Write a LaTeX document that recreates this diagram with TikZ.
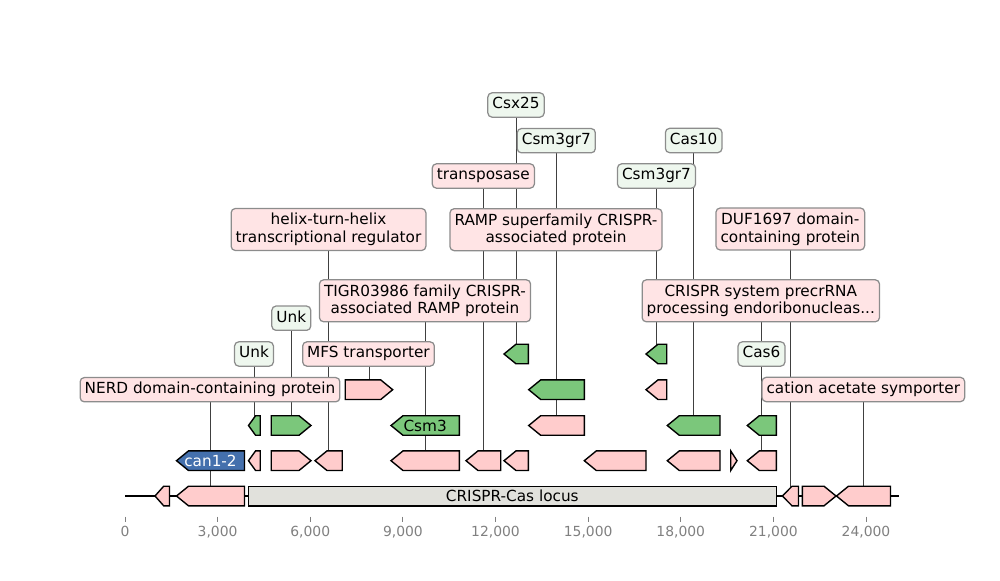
\documentclass[tikz,border=0pt]{standalone}
\usepackage{fontspec}
\setmainfont{DejaVu Sans}
\pgfdeclarelayer{bg}
\pgfsetlayers{bg,main}
\definecolor{gpink}{HTML}{FFCCCC}
\definecolor{ggreen}{HTML}{7BC77B}
\definecolor{gblue}{HTML}{4470AD}
\definecolor{glocus}{HTML}{E1E1DC}
\definecolor{bpink}{HTML}{FFE4E5}
\definecolor{bgreen}{HTML}{EEF7EE}
\definecolor{bedge}{HTML}{8C8C8C}
\definecolor{conncol}{HTML}{404040}
\definecolor{axgray}{HTML}{808080}
\tikzset{
  feat/.style={draw=black, line width=1pt, line join=miter},
  conn/.style={draw=conncol, line width=0.6pt},
  lblbase/.style={draw=bedge, line width=0.9pt, rounded corners=3pt, inner xsep=3.3pt,
    font=\fontsize{11}{12.7}\selectfont},
  lblone/.style={lblbase, inner ysep=3.3pt, text height=8.3pt, text depth=2.6pt},
  lbltwo/.style={lblbase, inner ysep=0pt, minimum height=30.2pt, align=center},
  pinkone/.style={lblone, fill=bpink},
  pinktwo/.style={lbltwo, fill=bpink},
  greenone/.style={lblone, fill=bgreen},
  intext/.style={inner sep=0pt, font=\fontsize{11}{12.7}\selectfont},
  tickmark/.style={draw=axgray, line width=0.7pt},
  ticklbl/.style={inner sep=0pt, anchor=north, text=axgray, font=\fontsize{10}{12}\selectfont},
}
% #1 name, #2 x1, #3 x2, #4 y centre, #5 direction (-1 left, 1 right), #6 fill colour
\newcommand\gfeat[6]{%
  \pgfmathsetmacro\gL{#3-#2}%
  \pgfmathsetmacro\gH{(\gL<8) ? \gL : min(12,0.6*\gL)}%
  \ifnum#5<0
    \draw[feat,fill=#6] (#2,#4) -- (#2+\gH,#4-9.8) -- (#3,#4-9.8) -- (#3,#4+9.8) -- (#2+\gH,#4+9.8) -- cycle;
  \else
    \draw[feat,fill=#6] (#3,#4) -- (#3-\gH,#4-9.8) -- (#2,#4-9.8) -- (#2,#4+9.8) -- (#3-\gH,#4+9.8) -- cycle;
  \fi
  \coordinate (#1) at ({(#2+#3)/2},#4);%
}
\begin{document}
\begin{tikzpicture}[x=0.72pt,y=-0.72pt]
\useasboundingbox (0,0) rectangle (1000,580);

% axis line
\coordinate (axL) at (125,496);
\coordinate (axR) at (899,496);
\begin{pgfonlayer}{bg}
\draw[line width=1.5pt] (axL) -- (axR);
\end{pgfonlayer}

% ticks
\foreach \i in {0,...,8} {
  \pgfmathsetmacro\xx{125+92.625*\i}
  \pgfmathtruncatemacro\vv{3*\i}
  \draw[tickmark] (\xx,516.5) -- (\xx,521.5);
  \node[ticklbl] (tick\i) at (\xx,526.3) {\ifnum\i=0 0\else\vv,000\fi};
}

% level 0
\gfeat{f0a}{155}{169.5}{496}{-1}{gpink}
\gfeat{f0b}{176.5}{244.5}{496}{-1}{gpink}
\draw[feat,fill=glocus] (248.3,486.2) rectangle (776.3,505.8);
\coordinate (locus) at (512.3,496);
\node[intext] (locustext) at (locus) {CRISPR-Cas locus};
\gfeat{f0c}{782.3}{798.5}{496}{-1}{gpink}
\gfeat{f0d}{802.3}{836}{496}{1}{gpink}
\gfeat{f0e}{836.5}{890.5}{496}{-1}{gpink}

% level 1
\gfeat{can}{176.5}{244.5}{460.7}{-1}{gblue}
\node[intext,text=white] (cantext) at (can) {can1-2};
\gfeat{f1a}{248.5}{260.3}{460.7}{-1}{gpink}
\gfeat{f1b}{271.3}{311}{460.7}{1}{gpink}
\gfeat{f1c}{315}{342.3}{460.7}{-1}{gpink}
\gfeat{f1d}{391}{459.3}{460.7}{-1}{gpink}
\gfeat{f1e}{466}{500.7}{460.7}{-1}{gpink}
\gfeat{f1f}{504}{528.3}{460.7}{-1}{gpink}
\gfeat{f1g}{584.3}{646}{460.7}{-1}{gpink}
\gfeat{f1h}{667.3}{720}{460.7}{-1}{gpink}
\gfeat{f1i}{730.7}{737}{460.7}{1}{gpink}
\gfeat{f1j}{747.3}{776.3}{460.7}{-1}{gpink}

% level 2
\gfeat{f2a}{248.5}{260.3}{425.5}{-1}{ggreen}
\gfeat{f2b}{271.3}{311}{425.5}{1}{ggreen}
\gfeat{csm}{391}{459.3}{425.5}{-1}{ggreen}
\node[intext] (csmtext) at (csm) {Csm3};
\gfeat{f2c}{528.7}{584.3}{425.5}{-1}{gpink}
\gfeat{f2d}{667.3}{720}{425.5}{-1}{ggreen}
\gfeat{f2e}{747.3}{776.3}{425.5}{-1}{ggreen}

% level 3
\gfeat{f3a}{345.3}{392.7}{389.7}{1}{gpink}
\gfeat{f3b}{528.7}{584.3}{389.7}{-1}{ggreen}
\gfeat{f3c}{646}{666.7}{389.7}{-1}{gpink}

% level 4
\gfeat{f4a}{504}{528.3}{354}{-1}{ggreen}
\gfeat{f4b}{646}{666.7}{354}{-1}{ggreen}

% labels
\node[pinkone] (nerd) at (210,389.7) {NERD domain-containing protein};
\node[greenone] (unka) at (254,354) {Unk};
\node[greenone] (unkb) at (291.3,318.2) {Unk};
\node[pinkone] (mfs) at (368.5,354) {MFS transporter};
\node[pinktwo] (hth) at (328.5,229.5) {helix-turn-helix\\transcriptional regulator};
\node[pinktwo] (tigr) at (425,300.8) {TIGR03986 family CRISPR-\\associated RAMP protein};
\node[pinkone] (tnp) at (483.3,176) {transposase};
\node[greenone] (csx) at (516,105) {Csx25};
\node[greenone] (gra) at (556.3,140.7) {Csm3gr7};
\node[pinktwo] (ramp) at (556,229.7) {RAMP superfamily CRISPR-\\associated protein};
\node[greenone] (grb) at (656.5,176) {Csm3gr7};
\node[greenone] (cas10) at (693.7,140.5) {Cas10};
\node[pinktwo] (duf) at (790.3,229) {DUF1697 domain-\\containing protein};
\node[pinktwo] (prec) at (760.8,300.8) {CRISPR system precrRNA\\processing endoribonucleas...};
\node[greenone] (cas6) at (761.5,354) {Cas6};
\node[pinkone] (cat) at (863.3,389.5) {cation acetate symporter};

% connectors
\begin{pgfonlayer}{bg}
\draw[conn] (f0b) -- (f0b |- nerd.center);
\draw[conn] (f2a) -- (f2a |- unka.center);
\draw[conn] (f2b) -- (f2b |- unkb.center);
\draw[conn] (f3a) -- (f3a |- mfs.center);
\draw[conn] (f1c) -- (f1c |- hth.center);
\draw[conn] (f1d) -- (f1d |- tigr.center);
\draw[conn] (f1e) -- (f1e |- tnp.center);
\draw[conn] (f4a) -- (f4a |- csx.center);
\draw[conn] (f3b) -- (f3b |- gra.center);
\draw[conn] (f2c) -- (f2c |- ramp.center);
\draw[conn] (f4b) -- (f4b |- grb.center);
\draw[conn] (f2d) -- (f2d |- cas10.center);
\draw[conn] (f0c) -- (f0c |- duf.center);
\draw[conn] (f1j) -- (f1j |- prec.center);
\draw[conn] (f2e) -- (f2e |- cas6.center);
\draw[conn] (f0e) -- (f0e |- cat.center);
\end{pgfonlayer}
\end{tikzpicture}
\end{document}
